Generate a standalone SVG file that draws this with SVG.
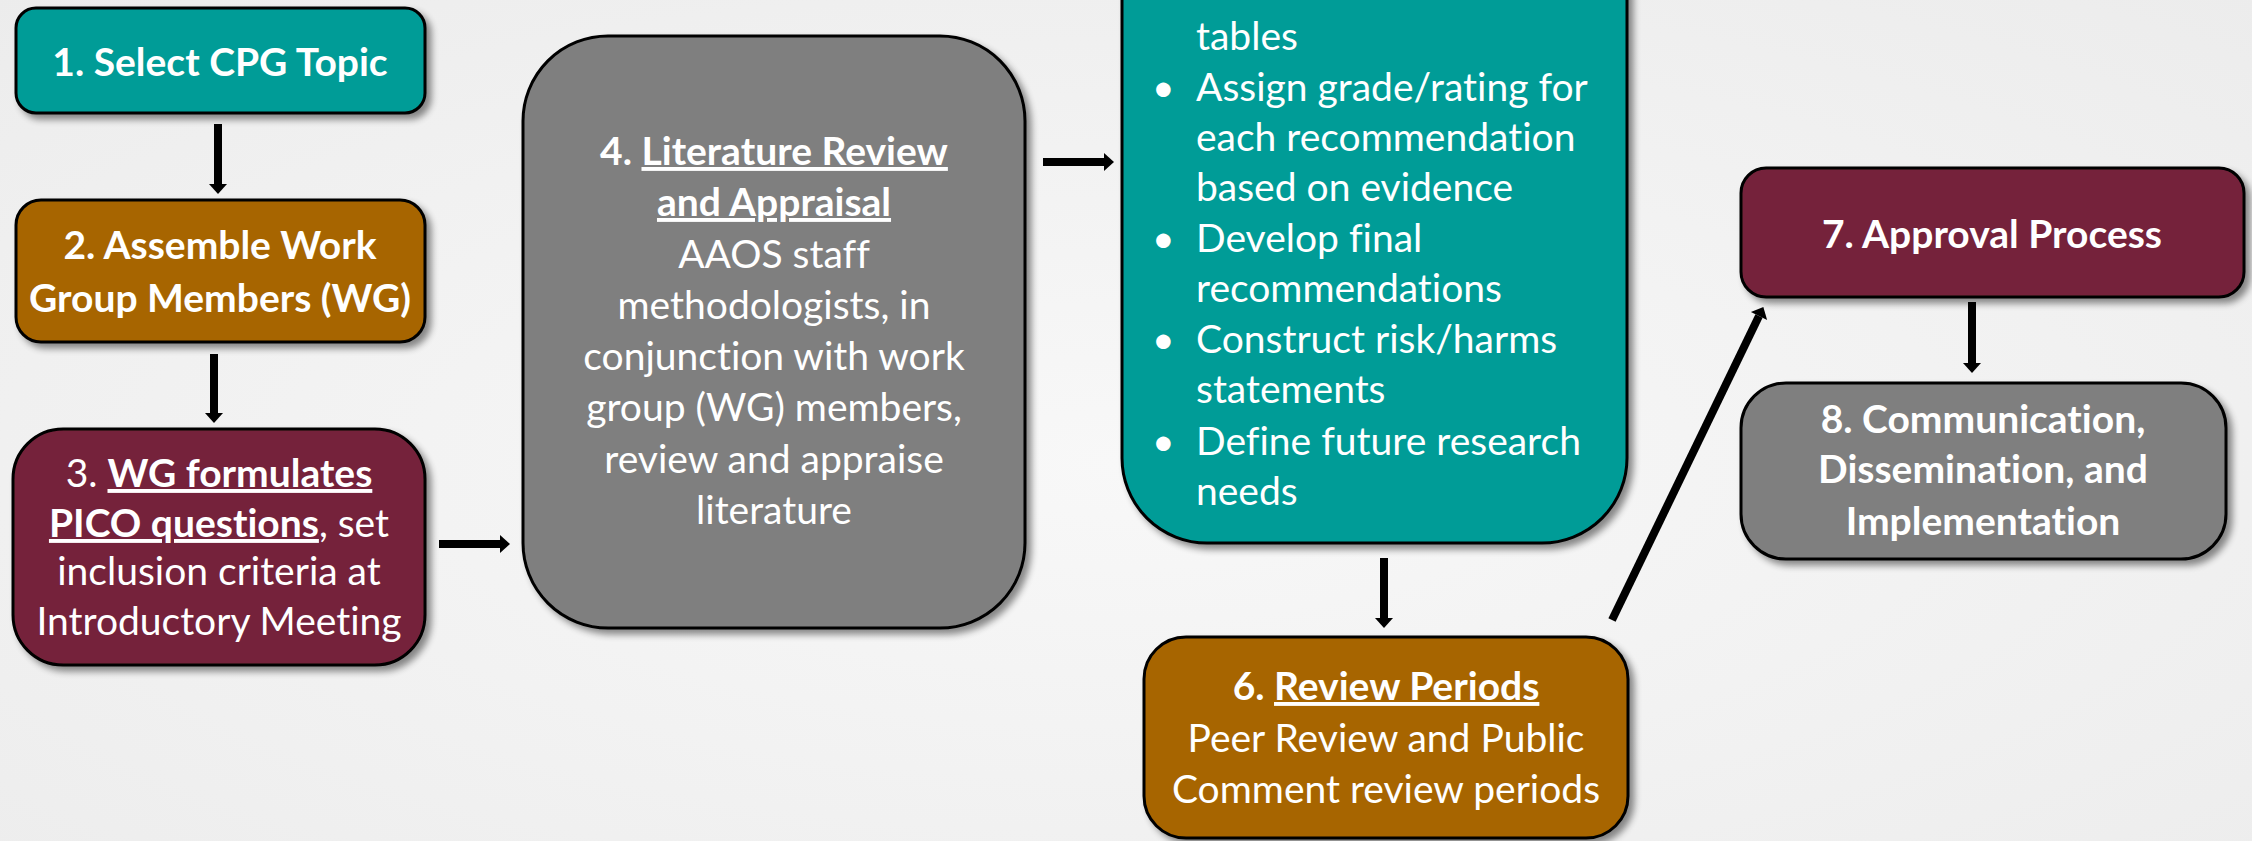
<svg xmlns="http://www.w3.org/2000/svg" width="2252" height="841" viewBox="0 0 2252 841">
  <defs>
    <radialGradient id="bg" cx="50%" cy="55%" r="75%">
      <stop offset="0" stop-color="#F8F8F8"/>
      <stop offset="1" stop-color="#ECECEC"/>
    </radialGradient>
    <filter id="shadow" x="-10%" y="-10%" width="125%" height="125%">
      <feGaussianBlur in="SourceAlpha" stdDeviation="3.5"/>
      <feOffset dx="5" dy="5" result="blur"/>
      <feComponentTransfer><feFuncA type="linear" slope="0.45"/></feComponentTransfer>
      <feMerge><feMergeNode/><feMergeNode in="SourceGraphic"/></feMerge>
    </filter>
    <marker id="head" markerUnits="userSpaceOnUse" markerWidth="10" markerHeight="18" refX="0" refY="9" orient="auto" overflow="visible">
      <path d="M0,0 L10,9 L0,18 Z" fill="#000"/>
    </marker>
    <style>
      .box { stroke: #000; stroke-width: 3; filter: url(#shadow); }
      .teal { fill: #009C97; }
      .brown { fill: #A76500; }
      .maroon { fill: #75243B; }
      .gray { fill: #7F7F7F; }
      .t { font-family: Lato, "Open Sans", "Liberation Sans", sans-serif; font-size: 39px; fill: #FFFFFF; text-anchor: middle; font-variant-ligatures: none; }
      .l { text-anchor: start; }
      .b { font-weight: bold; }
      .u { text-decoration: underline; }
      .arrow { stroke: #000; stroke-width: 8; fill: none; marker-end: url(#head); }
    </style>
  </defs>

  <rect x="0" y="0" width="2252" height="841" fill="url(#bg)"/>

  <!-- connectors -->
  <g id="connectors">
    <line class="arrow" x1="218" y1="124" x2="218" y2="184"/>
    <line class="arrow" x1="214" y1="354" x2="214" y2="413"/>
    <line class="arrow" x1="439" y1="544" x2="500" y2="544"/>
    <line class="arrow" x1="1043" y1="162" x2="1104" y2="162"/>
    <line class="arrow" x1="1384" y1="558" x2="1384" y2="618"/>
    <line class="arrow" x1="1612" y1="620" x2="1759" y2="316"/>
    <line class="arrow" x1="1972" y1="302" x2="1972" y2="363"/>
  </g>

  <g id="node1">
    <rect class="box teal" x="16" y="8" width="409" height="105" rx="20"/>
    <text class="t b" x="220" y="76">1. Select CPG Topic</text>
  </g>

  <g id="node2">
    <rect class="box brown" x="16" y="200" width="409" height="142" rx="25"/>
    <text class="t b" x="220" y="259">2. Assemble Work</text>
    <text class="t b" x="220" y="312">Group Members (WG)</text>
  </g>

  <g id="node3">
    <rect class="box maroon" x="13" y="429" width="412" height="236" rx="50"/>
    <text class="t" x="219" y="487">3. <tspan class="b u">WG formulates</tspan></text>
    <text class="t" x="219" y="537"><tspan class="b u">PICO questions</tspan>, set</text>
    <text class="t" x="219" y="585">inclusion criteria at</text>
    <text class="t" x="219" y="635">Introductory Meeting</text>
  </g>

  <g id="node4">
    <rect class="box gray" x="523" y="36" width="502" height="592" rx="85"/>
    <text class="t b" x="774" y="165">4. <tspan class="u">Literature Review</tspan></text>
    <text class="t b u" x="774" y="216">and Appraisal</text>
    <text class="t" x="774" y="268">AAOS staff</text>
    <text class="t" x="774" y="319">methodologists, in</text>
    <text class="t" x="774" y="370">conjunction with work</text>
    <text class="t" x="774" y="421">group (WG) members,</text>
    <text class="t" x="774" y="473">review and appraise</text>
    <text class="t" x="774" y="524">literature</text>
  </g>

  <g id="node5">
    <path class="box teal" d="M1122,-200 L1627,-200 L1627,458 A85,85 0 0 1 1542,543 L1207,543 A85,85 0 0 1 1122,458 Z"/>
    <text class="t l" x="1196" y="50">tables</text>
    <text class="t l" x="1152" y="101">•</text>
    <text class="t l" x="1196" y="101">Assign grade/rating for</text>
    <text class="t l" x="1196" y="151">each recommendation</text>
    <text class="t l" x="1196" y="201">based on evidence</text>
    <text class="t l" x="1152" y="252">•</text>
    <text class="t l" x="1196" y="252">Develop final</text>
    <text class="t l" x="1196" y="302">recommendations</text>
    <text class="t l" x="1152" y="353">•</text>
    <text class="t l" x="1196" y="353">Construct risk/harms</text>
    <text class="t l" x="1196" y="403">statements</text>
    <text class="t l" x="1152" y="455">•</text>
    <text class="t l" x="1196" y="455">Define future research</text>
    <text class="t l" x="1196" y="505">needs</text>
  </g>

  <g id="node6">
    <rect class="box brown" x="1144" y="637" width="484" height="201" rx="42"/>
    <text class="t b" x="1386" y="700">6. <tspan class="u">Review Periods</tspan></text>
    <text class="t" x="1386" y="752">Peer Review and Public</text>
    <text class="t" x="1386" y="803">Comment review periods</text>
  </g>

  <g id="node7">
    <rect class="box maroon" x="1741" y="168" width="503" height="129" rx="25"/>
    <text class="t b" x="1992" y="248">7. Approval Process</text>
  </g>

  <g id="node8">
    <rect class="box gray" x="1741" y="383" width="485" height="176" rx="45"/>
    <text class="t b" x="1983" y="433">8. Communication,</text>
    <text class="t b" x="1983" y="483">Dissemination, and</text>
    <text class="t b" x="1983" y="535">Implementation</text>
  </g>
</svg>
